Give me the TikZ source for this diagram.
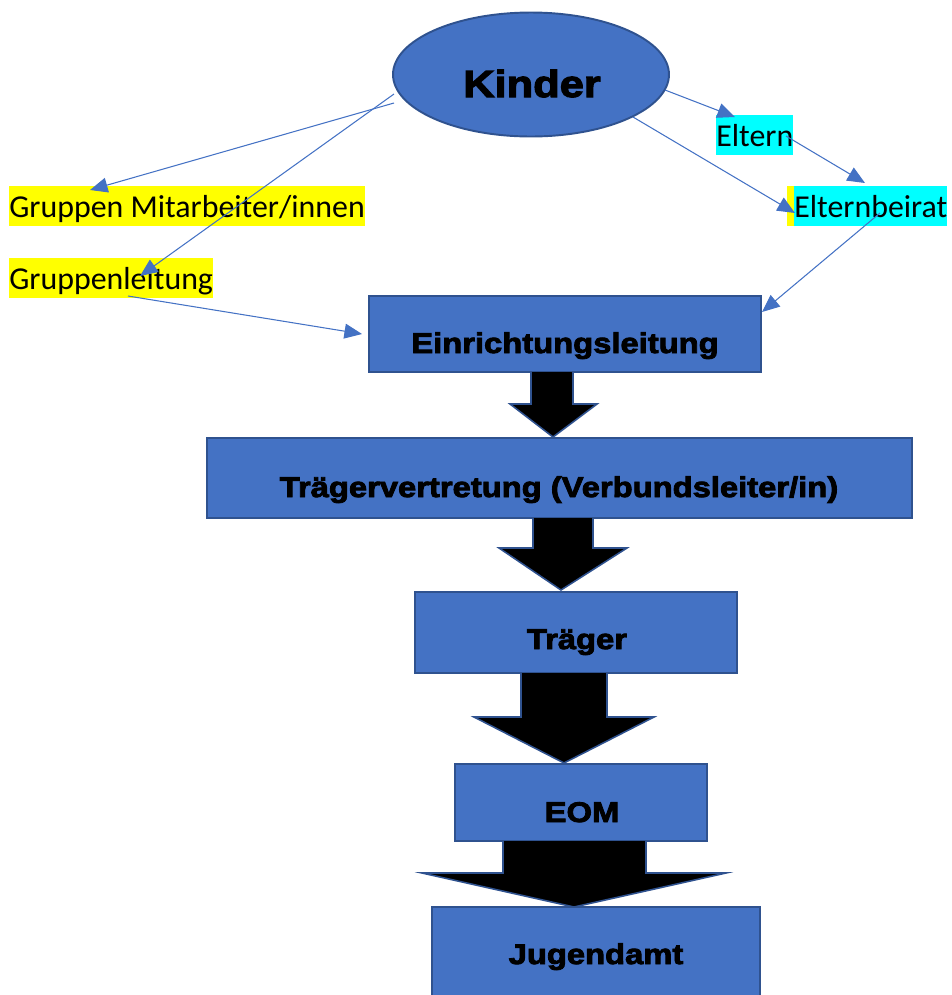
\documentclass[tikz,border=0pt]{standalone}
\usepackage{fontspec}
\setmainfont{Carlito}
\newfontfamily\blackfont{Liberation Sans}[FakeStretch=1.15, BoldFeatures={FakeStretch=1.15,FakeBold=3}]
\usetikzlibrary{arrows.meta,shapes.geometric}
\definecolor{boxblue}{HTML}{4472C4}
\definecolor{edgeblue}{HTML}{2F528F}
\definecolor{hlyellow}{HTML}{FFFF00}
\definecolor{hlcyan}{HTML}{00FFFF}
\begin{document}
\begin{tikzpicture}[x=0.02cm,y=-0.02cm,
  boxnode/.style={draw=edgeblue, fill=boxblue, line width=1.1pt, inner sep=0pt},
  boxtext/.style={font=\blackfont\bfseries\fontsize{16.2}{18}\selectfont, anchor=base, inner sep=0pt},
  hltext/.style={font=\fontsize{18.14}{20}\selectfont, anchor=base west, inner xsep=0pt, inner ysep=0pt, text height=17.6pt, text depth=5.1pt},
  conn/.style={draw=boxblue, line width=0.6pt, -{Triangle[length=10pt,width=8.5pt]}},
  bigarrow/.style={fill=black, draw=edgeblue, line width=0.9pt, line join=miter}]
\clip (0,0) rectangle (952,995);

% ellipse
\node[ellipse, draw=edgeblue, fill=boxblue, line width=1.1pt, inner sep=0pt,
      minimum width=5.52cm, minimum height=2.48cm] (kinder) at (531,74.5) {};
\node[font=\blackfont\bfseries\fontsize{21.5}{24}\selectfont, anchor=base, inner sep=0pt] (kindert) at (532,97) {Kinder};

% highlighted labels
\node[hltext, fill=hlyellow] (gm) at (9,217) {Gruppen Mitarbeiter/innen};
\node[hltext, fill=hlyellow] (gl) at (9,289) {Gruppenleitung};
\node[hltext, fill=hlcyan] (el) at (716,146) {Eltern};
\fill[hlyellow] (787,186) rectangle (794,226);
\node[hltext, fill=hlcyan] (eb) at (794,217) {Elternbeirat};

% boxes
\node[boxnode, minimum width=7.84cm, minimum height=1.52cm] (ein) at (565,334) {};
\node[boxtext] (eint) at (565,353) {Einrichtungsleitung};
\node[boxnode, minimum width=14.1cm, minimum height=1.6cm] (tv) at (559.5,478) {};
\node[boxtext] (tvt) at (559,497) {Trägervertretung (Verbundsleiter/in)};
\node[boxnode, minimum width=6.44cm, minimum height=1.62cm] (tr) at (576,632.5) {};
\node[boxtext] (trt) at (577,649) {Träger};
\node[boxnode, minimum width=5.04cm, minimum height=1.54cm] (eom) at (581,802.5) {};
\node[boxtext] (eomt) at (582,822) {EOM};
\node[boxnode, minimum width=6.56cm, minimum height=2cm] (jug) at (596,957) {};
\node[boxtext] (jugt) at (596,964) {Jugendamt};

% block arrows
\draw[bigarrow] (531,372) -- (531,404) -- (510,404) -- (553,437) -- (597,404) -- (573,404) -- (573,372);
\draw[bigarrow] (533,518) -- (533,548) -- (499,548) -- (561,590) -- (627,548) -- (593,548) -- (593,518);
\draw[bigarrow] (521,673) -- (521,717) -- (474,717) -- (564,763) -- (654,717) -- (607,717) -- (607,673);
\draw[bigarrow] (503,841) -- (503,873) -- (422,873) -- (574,907) -- (726,873) -- (646,873) -- (646,841);

% connector endpoints
\coordinate (k1) at (394,103);
\coordinate (k2) at (394,94);
\coordinate (k3) at (665,90);
\coordinate (k4) at (633,117);
\coordinate (gmin) at (90,190);
\coordinate (glin) at (140,276);
\coordinate (glout) at (128,296);
\coordinate (einl) at (362,334);
\coordinate (einr) at (762,312);
\coordinate (elin) at (735,117);
\coordinate (elout) at (786,136);
\coordinate (ebin) at (865,183);
\coordinate (ebin2) at (795,213);
\coordinate (ebout) at (880,213);

\draw[conn] (k1) -- (gmin);
\draw[conn] (k2) -- (glin);
\draw[conn] (glout) -- (einl);
\draw[conn] (k3) -- (elin);
\draw[conn] (elout) -- (ebin);
\draw[conn] (k4) -- (ebin2);
\draw[conn] (ebout) -- (einr);
\end{tikzpicture}
\end{document}
